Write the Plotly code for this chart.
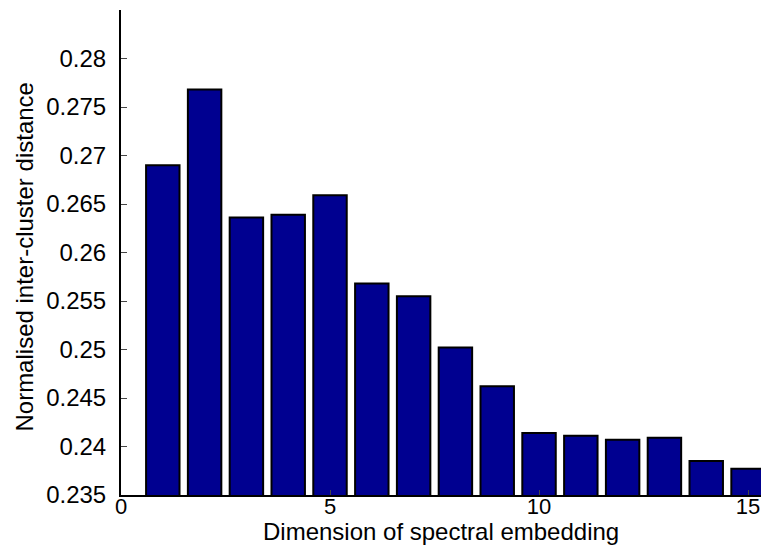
import plotly.graph_objects as go

dims = list(range(1, 16))
values = [0.2690, 0.2768, 0.2636, 0.2639, 0.2659, 0.2568, 0.2555, 0.2502,
          0.2462, 0.2414, 0.2411, 0.2407, 0.2409, 0.2385, 0.2377]
y_ticks = [0.235, 0.24, 0.245, 0.25, 0.255, 0.26, 0.265, 0.27, 0.275, 0.28]
y_tick_labels = ["0.235", "0.24", "0.245", "0.25", "0.255", "0.26", "0.265", "0.27", "0.275", "0.28"]
x_ticks = [0, 5, 10, 15]
x_title = "Dimension of spectral embedding"
y_title = "Normalised inter-cluster distance"

fig = go.Figure(go.Bar(
    x=dims, y=values, width=0.8,
    marker=dict(color="#000090", line=dict(color="black", width=2)),
))

font = "Liberation Sans, Arial, Helvetica, sans-serif"
fig.update_layout(
    width=761, height=556,
    margin=dict(l=121, r=0, t=10, b=61),
    plot_bgcolor="white", paper_bgcolor="white",
    showlegend=False,
    font=dict(family=font, color="black"),
    xaxis=dict(
        range=[0, 15.31], tickvals=x_ticks, ticks="inside", ticklen=5,
        showline=True, linecolor="black", linewidth=2, showgrid=False,
        zeroline=False, tickfont=dict(size=22), automargin=False,
        ticklabelstandoff=-9,
    ),
    yaxis=dict(
        range=[0.235, 0.285], tickvals=y_ticks, ticktext=y_tick_labels,
        ticks="inside", ticklen=6, showline=True, linecolor="black", linewidth=2,
        showgrid=False, zeroline=False, tickfont=dict(size=24), automargin=False,
        ticklabelstandoff=8,
    ),
    annotations=[
        dict(text=x_title, xref="paper", yref="paper", x=0.5, y=-0.075,
             xanchor="center", yanchor="middle", showarrow=False,
             font=dict(size=24)),
        dict(text=y_title, xref="paper", yref="paper", x=-0.1505, y=0.491,
             xanchor="center", yanchor="middle", showarrow=False, textangle=-90,
             font=dict(size=24)),
    ],
)

fig.write_html(
    "out.html",
    config={"displayModeBar": False},
    post_script="document.body.style.margin='0';document.body.style.overflow='hidden';",
)
